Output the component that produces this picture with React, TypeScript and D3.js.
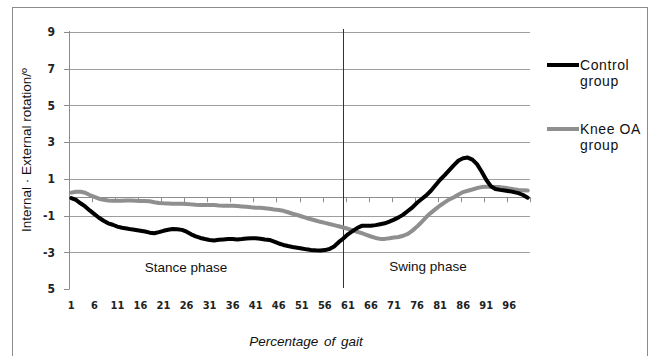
import React from "react";
import * as d3 from "d3";

const categories: number[] = Array.from({ length: 100 }, (_, i) => i + 1);
const xTickLabels: number[] = [1, 6, 11, 16, 21, 26, 31, 36, 41, 46, 51, 56, 61, 66, 71, 76, 81, 86, 91, 96];
const yTickValues: number[] = [9, 7, 5, 3, 1, -1, -3, -5];
const yTickLabels: string[] = ["9", "7", "5", "3", "1", "-1", "-3", "5"];

const controlGroup: number[] = [
  -0.05, -0.15, -0.33, -0.5, -0.72, -0.92, -1.12, -1.28, -1.42, -1.5,
  -1.6, -1.66, -1.7, -1.75, -1.79, -1.83, -1.87, -1.93, -1.96, -1.9,
  -1.83, -1.77, -1.73, -1.74, -1.78, -1.88, -2.02, -2.13, -2.22, -2.28,
  -2.33, -2.36, -2.32, -2.3, -2.28, -2.28, -2.3, -2.28, -2.25, -2.23,
  -2.23, -2.26, -2.3, -2.33, -2.42, -2.52, -2.6, -2.66, -2.71, -2.75,
  -2.79, -2.84, -2.87, -2.89, -2.9, -2.88, -2.82, -2.68, -2.45, -2.25,
  -2.02, -1.85, -1.68, -1.56, -1.55, -1.55, -1.52, -1.47, -1.42, -1.33,
  -1.22, -1.1, -0.95, -0.75, -0.55, -0.3, -0.1, 0.1, 0.35, 0.65,
  0.95, 1.2, 1.48, 1.75, 2.0, 2.12, 2.16, 2.05, 1.8, 1.4,
  0.95, 0.6, 0.45, 0.4, 0.37, 0.33, 0.28, 0.22, 0.12, -0.03,
];

const kneeOAGroup: number[] = [
  0.25, 0.3, 0.3, 0.24, 0.12, 0.02, -0.08, -0.14, -0.18, -0.19,
  -0.19, -0.19, -0.18, -0.18, -0.19, -0.2, -0.2, -0.22, -0.27, -0.31,
  -0.33, -0.34, -0.35, -0.36, -0.36, -0.37, -0.39, -0.41, -0.42, -0.42,
  -0.42, -0.43, -0.45, -0.46, -0.47, -0.47, -0.48, -0.5, -0.52, -0.55,
  -0.57, -0.58, -0.6, -0.63, -0.67, -0.7, -0.74, -0.82, -0.9, -0.97,
  -1.05, -1.13, -1.2, -1.27, -1.34, -1.4, -1.46, -1.52, -1.58, -1.65,
  -1.72, -1.8, -1.88, -1.96, -2.05, -2.14, -2.22, -2.27, -2.27, -2.24,
  -2.2, -2.17, -2.1, -2.0, -1.82, -1.6, -1.35, -1.08, -0.85, -0.65,
  -0.45, -0.28, -0.12, 0.0, 0.15, 0.28, 0.35, 0.42, 0.5, 0.55,
  0.57, 0.57, 0.56, 0.55, 0.52, 0.47, 0.43, 0.4, 0.38, 0.36,
];

const phaseBoundary = 60;

export default function App() {
  const W = 650, H = 356;
  const left = 69, right = 530, top = 32, bottom = 289;
  const x = d3.scaleBand<number>().domain(categories).range([left, right]).padding(0);
  const bw = x.bandwidth();
  const xc = (c: number) => (x(c) as number) + bw / 2;
  const y = d3.scaleLinear().domain([-5, 9]).range([bottom, top]);

  const line = d3
    .line<number>()
    .x((_, i) => xc(categories[i]))
    .y((d) => y(d));

  const gridColor = "#9e9e9e";
  const tickFont = "'DejaVu Sans Condensed', 'DejaVu Sans', sans-serif";
  const textFont = "'Liberation Sans', Arial, sans-serif";
  const y0 = y(0);
  const boundaryX = xc(phaseBoundary);

  return (
    <div style={{ position: "absolute", left: 0, top: 0 }}>
      <svg width={W} height={H} style={{ display: "block" }}>
        <rect x={0} y={0} width={W} height={H} fill="#fff" />
        <rect x={12.5} y={7.5} width={635} height={370} fill="none" stroke="#8c8c8c" strokeWidth={1} />

        {/* gridlines */}
        {yTickValues.filter((v) => v !== -5).map((v) => (
          <line key={"g" + v} x1={left} x2={right} y1={Math.round(y(v)) + 0.5} y2={Math.round(y(v)) + 0.5} stroke={gridColor} strokeWidth={1} />
        ))}
        {/* y axis */}
        <line x1={left + 0.5} x2={left + 0.5} y1={top - 1} y2={bottom + 0.5} stroke="#8c8c8c" strokeWidth={1} />
        {yTickValues.map((v, i) => (
          <g key={"yt" + v}>
            <line x1={left - 5} x2={left} y1={Math.round(y(v)) + 0.5} y2={Math.round(y(v)) + 0.5} stroke="#8c8c8c" />
            <text x={55} y={y(v)} dy="0.36em" textAnchor="end" fontFamily={tickFont} fontWeight="bold" fontSize={12} fill="#222">
              {yTickLabels[i]}
            </text>
          </g>
        ))}
        {/* x axis at zero */}
        <line x1={left} x2={right} y1={Math.round(y0) + 0.5} y2={Math.round(y0) + 0.5} stroke="#8c8c8c" strokeWidth={1} />
        {d3.range(0, 101, 5).map((k) => {
          const xx = k < 100 ? (x(categories[k]) as number) : right;
          return <line key={"xt" + k} x1={Math.round(xx) + 0.5} x2={Math.round(xx) + 0.5} y1={y0} y2={y0 + 5} stroke="#8c8c8c" />;
        })}
        {xTickLabels.map((c) => (
          <text key={"xl" + c} x={xc(c)} y={309} textAnchor="middle" fontFamily={tickFont} fontWeight="bold" fontSize={11} fill="#222">
            {c}
          </text>
        ))}

        {/* phase boundary */}
        <line x1={Math.round(boundaryX) + 0.5} x2={Math.round(boundaryX) + 0.5} y1={29} y2={288} stroke="#333" strokeWidth={1} />
        <text x={186} y={272} textAnchor="middle" fontFamily={textFont} fontSize={13.5} fill="#111">Stance phase</text>
        <text x={428} y={271} textAnchor="middle" fontFamily={textFont} fontSize={13.5} fill="#111">Swing phase</text>

        {/* series */}
        <path d={line(kneeOAGroup) || ""} fill="none" stroke="#8f8f8f" strokeWidth={4} strokeLinejoin="round" strokeLinecap="round" />
        <path d={line(controlGroup) || ""} fill="none" stroke="#000" strokeWidth={4} strokeLinejoin="round" strokeLinecap="round" />

        {/* axis titles */}
        <text transform={`translate(31,${150}) rotate(-90)`} textAnchor="middle" fontFamily={textFont} fontSize={13.5} fill="#111">
          Internal · External rotation/º
        </text>
        <text x={306} y={346} textAnchor="middle" fontFamily={textFont} fontStyle="italic" fontSize={13.5} wordSpacing={2} fill="#111">
          Percentage of gait
        </text>

        {/* legend */}
        <line x1={547} x2={579} y1={65} y2={65} stroke="#000" strokeWidth={4} />
        <text x={580} y={70} fontFamily={textFont} fontSize={14} letterSpacing={0.6} fill="#111">Control</text>
        <text x={580} y={86} fontFamily={textFont} fontSize={14} letterSpacing={0.6} fill="#111">group</text>
        <line x1={547} x2={579} y1={129} y2={129} stroke="#8f8f8f" strokeWidth={4} />
        <text x={580} y={134} fontFamily={textFont} fontSize={14} letterSpacing={0.6} fill="#111">Knee OA</text>
        <text x={580} y={150} fontFamily={textFont} fontSize={14} letterSpacing={0.6} fill="#111">group</text>
      </svg>
    </div>
  );
}
